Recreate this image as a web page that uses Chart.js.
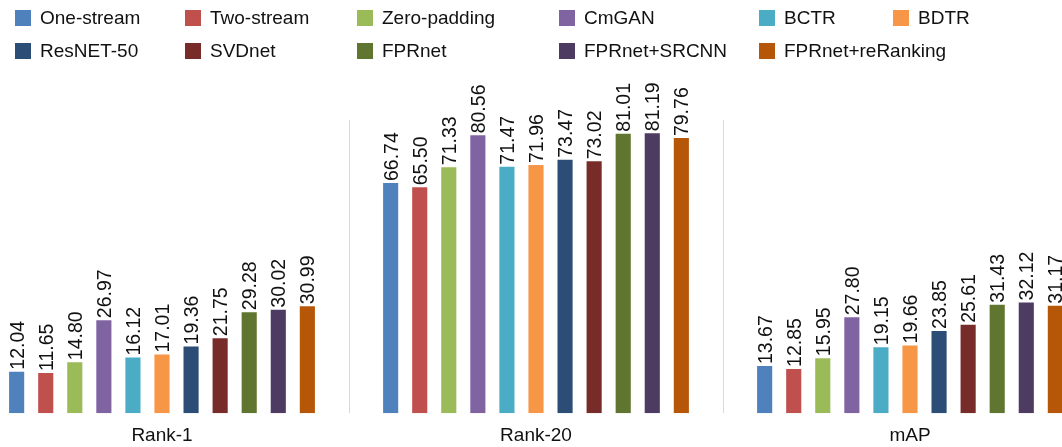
<!DOCTYPE html>
<html>
<head>
<meta charset="utf-8">
<script src="https://cdn.jsdelivr.net/npm/chart.js@4.4.0/dist/chart.umd.min.js"></script>
<style>
  html, body { margin: 0; padding: 0; background: #fff; overflow: hidden; }
  body { width: 1062px; height: 447px; position: relative; font-family: "Liberation Sans", Arial, sans-serif; }
  #wrap { position: absolute; left: -25px; top: 0; width: 1122px; height: 458px; }
  #legend { position: absolute; left: 0; top: 0; width: 1062px; height: 70px; }
  .item { position: absolute; display: flex; align-items: center; font-size: 19px; color: #111; white-space: nowrap; height: 22px; }
  .box { width: 16px; height: 16px; margin-right: 9px; }
</style>
</head>
<body>
<div id="wrap"><canvas id="chart" width="1122" height="458"></canvas></div>
<div id="legend"></div>
<script>
// Categories and series
const categories = ['Rank-1', 'Rank-20', 'mAP'];
const methods = ['One-stream', 'Two-stream', 'Zero-padding', 'CmGAN', 'BCTR', 'BDTR',
  'ResNET-50', 'SVDnet', 'FPRnet', 'FPRnet+SRCNN', 'FPRnet+reRanking'];
const colors = ['#4F81BD', '#C0504D', '#9BBB59', '#8064A2', '#4BACC6', '#F79646',
  '#2C4D75', '#772C2A', '#5F7530', '#4D3B62', '#B65708'];
// values per method: [Rank-1, Rank-20, mAP]
const oneStream = [12.04, 66.74, 13.67];
const twoStream = [11.65, 65.50, 12.85];
const zeroPadding = [14.80, 71.33, 15.95];
const cmGAN = [26.97, 80.56, 27.80];
const bctr = [16.12, 71.47, 19.15];
const bdtr = [17.01, 71.96, 19.66];
const resnet50 = [19.36, 73.47, 23.85];
const svdnet = [21.75, 73.02, 25.61];
const fprnet = [29.28, 81.01, 31.43];
const fprnetSRCNN = [30.02, 81.19, 32.12];
const fprnetReRanking = [30.99, 79.76, 31.17];

const seriesValues = [oneStream, twoStream, zeroPadding, cmGAN, bctr, bdtr,
  resnet50, svdnet, fprnet, fprnetSRCNN, fprnetReRanking];

const datasets = methods.map((name, i) => ({
  label: name,
  data: seriesValues[i],
  backgroundColor: colors[i],
  borderWidth: 0,
  categoryPercentage: 0.855,
  barPercentage: 0.52
}));

// Rotated value labels above each bar
const valueLabels = {
  id: 'valueLabels',
  afterDatasetsDraw(chart) {
    const ctx = chart.ctx;
    ctx.save();
    ctx.font = '19.5px "Liberation Sans", Arial, sans-serif';
    ctx.fillStyle = '#111';
    ctx.textAlign = 'left';
    ctx.textBaseline = 'alphabetic';
    chart.data.datasets.forEach((ds, di) => {
      chart.getDatasetMeta(di).data.forEach((bar, idx) => {
        const txt = ds.data[idx].toFixed(2);
        ctx.save();
        ctx.translate(bar.x + 7, bar.y - 2);
        ctx.rotate(-Math.PI / 2);
        ctx.fillText(txt, 0, 0);
        ctx.restore();
      });
    });
    ctx.restore();
  }
};

const ctx = document.getElementById('chart').getContext('2d');
const chart = new Chart(ctx, {
  type: 'bar',
  data: { labels: categories, datasets: datasets },
  options: {
    responsive: false,
    animation: false,
    layout: { padding: { top: 120, bottom: 0, left: 0, right: 0 } },
    scales: {
      x: {
        offset: true,
        grid: { offset: true, color: '#d9d9d9', lineWidth: 1, drawTicks: false },
        border: { display: false },
        ticks: { color: '#111', font: { size: 19, family: '"Liberation Sans", Arial, sans-serif' }, padding: 11 }
      },
      y: {
        display: false,
        min: 0,
        max: 85
      }
    },
    plugins: {
      legend: { display: false },
      tooltip: { enabled: false }
    }
  },
  plugins: [valueLabels]
});

// HTML legend, two rows in fixed columns like the original
const colLeft = [15, 185, 357, 559, 759, 893];
const rowTop = [7, 40];
const legend = document.getElementById('legend');
methods.forEach((name, i) => {
  const row = i < 6 ? 0 : 1;
  const col = i % 6;
  const el = document.createElement('div');
  el.className = 'item';
  el.style.left = colLeft[col] + 'px';
  el.style.top = rowTop[row] + 'px';
  el.innerHTML = '<span class="box" style="background:' + colors[i] + '"></span>' + name;
  legend.appendChild(el);
});
</script>
</body>
</html>
